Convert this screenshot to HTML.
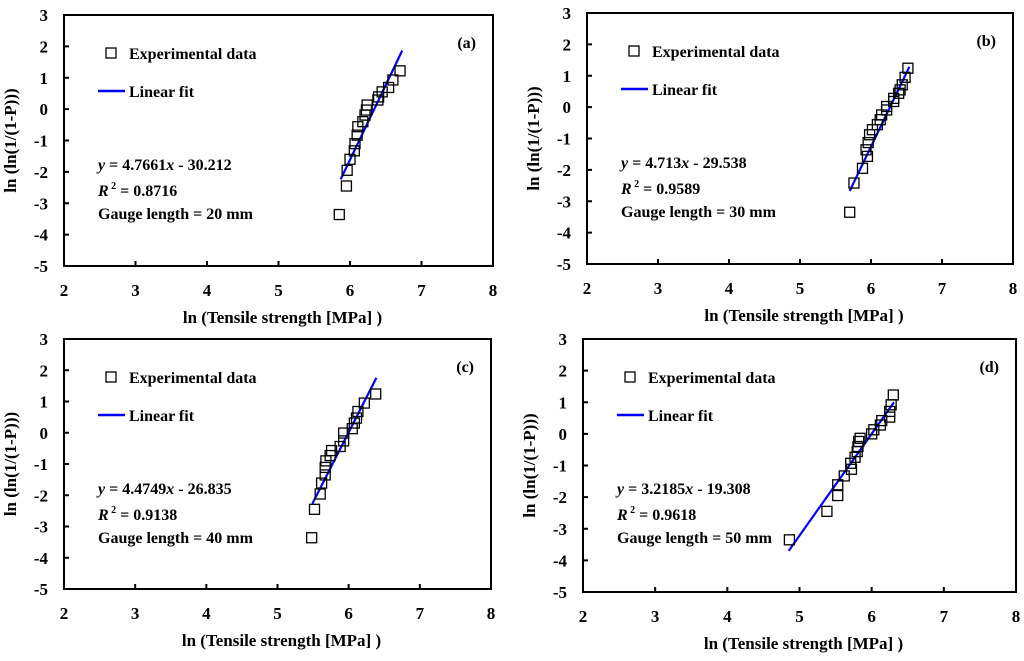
<!DOCTYPE html>
<html><head><meta charset="utf-8">
<style>
html,body{margin:0;padding:0;background:#fff;}
svg{display:block;font-family:"Liberation Serif",serif;font-weight:bold;}
</style></head>
<body>
<svg id="fig" width="1024" height="661" viewBox="0 0 1024 661"></svg>
<script>
// Panel (a) data
const aX = [5.85,5.95,5.96,6.0,6.06,6.07,6.1,6.11,6.18,6.21,6.23,6.24,6.39,6.4,6.45,6.54,6.6,6.7];
const aY = [-3.36,-2.45,-1.95,-1.6,-1.33,-1.1,-0.83,-0.56,-0.4,-0.19,-0.03,0.13,0.29,0.39,0.55,0.69,0.93,1.22];
const aFit = [4.7661,-30.212,5.87,6.73];
// Panel (b) data
const bX = [5.70,5.76,5.88,5.95,5.93,5.96,5.98,6.02,6.09,6.13,6.15,6.22,6.22,6.32,6.32,6.39,6.41,6.44,6.48,6.52];
const bY = [-3.35,-2.42,-1.95,-1.57,-1.36,-1.13,-0.88,-0.72,-0.56,-0.4,-0.25,-0.09,0.02,0.18,0.28,0.44,0.55,0.71,0.95,1.24];
const bFit = [4.713,-29.538,5.70,6.54];
// Panel (c) data
const cX = [5.48,5.52,5.6,5.62,5.67,5.67,5.68,5.74,5.76,5.88,5.93,5.93,6.05,6.08,6.11,6.13,6.22,6.38];
const cY = [-3.36,-2.45,-1.96,-1.61,-1.35,-1.11,-0.9,-0.73,-0.57,-0.44,-0.26,-0.01,0.13,0.31,0.47,0.68,0.95,1.24];
const cFit = [4.4749,-26.835,5.49,6.39];
// Panel (d) data
const dX = [4.86,5.38,5.53,5.53,5.62,5.72,5.71,5.77,5.8,5.81,5.82,5.84,6.0,6.03,6.12,6.14,6.25,6.25,6.27,6.3];
const dY = [-3.35,-2.45,-1.95,-1.61,-1.33,-1.12,-0.93,-0.74,-0.56,-0.4,-0.24,-0.14,0.0,0.13,0.28,0.42,0.53,0.71,0.92,1.23];
const dFit = [3.2185,-19.308,4.85,6.31];
// Axis ticks
const xTicks = [2,3,4,5,6,7,8];
const yTicks = [3,2,1,0,-1,-2,-3,-4,-5];
const panelLabels = ["(a)","(b)","(c)","(d)"];
const eqTexts = ["4.7661","4.713","4.4749","3.2185"];
const eqConsts = ["30.212","29.538","26.835","19.308"];
const r2Texts = ["0.8716","0.9589","0.9138","0.9618"];
const gauges = ["20","30","40","50"];

const NS="http://www.w3.org/2000/svg";
const svg=document.getElementById('fig');
function mk(tag,attrs,parent,txt){
  const e=document.createElementNS(NS,tag);
  for(const k in attrs)e.setAttribute(k,attrs[k]);
  if(txt!==undefined)e.textContent=txt;
  parent.appendChild(e);return e;
}
const boxes=[[64,15,493,266],[587,13,1013,264],[64,339,491,589],[583,339,1016,592]];
const datasets=[[aX,aY,aFit],[bX,bY,bFit],[cX,cY,cFit],[dX,dY,dFit]];
const letters=['a','b','c','d'];

boxes.forEach((b,i)=>{
  const [L,T,R,B]=b;
  const g=mk('g',{},svg);
  
  
  const sx=v=>L+(v-2)/6*(R-L);
  const sy=v=>T+(3-v)/8*(B-T);
  const frame=mk('rect',{x:L,y:T,width:R-L,height:B-T,fill:'none',stroke:'#000','stroke-width':2},g);
  
  
  xTicks.forEach(t=>{
    const x=sx(t);
    if(t>2&&t<8)mk('line',{x1:x,y1:B,x2:x,y2:B-5,stroke:'#000','stroke-width':2},g);
    const tl=mk('text',{x:x,y:B+30,'text-anchor':'middle','font-size':17},g,String(t));
    
    
  });
  yTicks.forEach(t=>{
    const y=sy(t);
    if(t<3&&t>-5)mk('line',{x1:L,y1:y,x2:L+5,y2:y,stroke:'#000','stroke-width':2},g);
    const tl=mk('text',{x:L-16,y:y+6,'text-anchor':'end','font-size':17},g,String(t));
    
    
  });
  const xt=mk('text',{x:(L+R)/2+4,y:B+57,'text-anchor':'middle','font-size':17},g,'ln (Tensile strength [MPa] )');
  
  
  const yx=L-48, yy=(T+B)/2;
  const yt=mk('text',{x:yx,y:yy,'text-anchor':'middle','font-size':17,transform:`rotate(-90 ${yx} ${yy})`},g,'ln (ln(1/(1-P)))');
  
  
  const pl=mk('text',{x:R-17,y:T+33,'text-anchor':'end','font-size':16},g,panelLabels[i]);
  
  
  // legend
  const lx=L+34;
  const ls=mk('rect',{x:lx+8,y:T+33,width:10,height:10,fill:'#fff',stroke:'#000','stroke-width':1.3},g);
  
  
  const lt1=mk('text',{x:lx+31,y:T+44,'font-size':16},g,'Experimental data');
  
  
  const ll=mk('line',{x1:lx,y1:T+76,x2:lx+27,y2:T+76,stroke:'#0000ff','stroke-width':2.5},g);
  
  
  const lt2=mk('text',{x:lx+31,y:T+82,'font-size':16},g,'Linear fit');
  
  
  // annotations
  const ax=L+34;
  const eq=mk('text',{x:ax,y:T+155,'font-size':16},g);
  
  
  mk('tspan',{'font-style':'italic'},eq,'y');
  mk('tspan',{},eq,' = '+eqTexts[i]);
  mk('tspan',{'font-style':'italic'},eq,'x');
  mk('tspan',{},eq,'  - '+eqConsts[i]);
  const r2=mk('text',{x:ax,y:T+181,'font-size':16},g);
  
  
  mk('tspan',{'font-style':'italic'},r2,'R');
  mk('tspan',{'font-size':10,dy:-7},r2,' 2');
  mk('tspan',{dy:7},r2,' = '+r2Texts[i]);
  const ga=mk('text',{x:ax,y:T+204,'font-size':16},g,'Gauge length = '+gauges[i]+' mm');
  
  
  // series
  const [X,Y,F]=datasets[i];
  const x1=F[2],x2=F[3];
  const fit=mk('line',{x1:sx(x1),y1:sy(F[0]*x1+F[1]),x2:sx(x2),y2:sy(F[0]*x2+F[1]),stroke:'#0000ff','stroke-width':2.2},g);
  
  
  X.forEach((xv,k)=>{
    const p=mk('rect',{x:sx(xv)-5,y:sy(Y[k])-5,width:10,height:10,fill:'none',stroke:'#000','stroke-width':1.3},g);
    
    
  });
});
</script>
</body></html>
